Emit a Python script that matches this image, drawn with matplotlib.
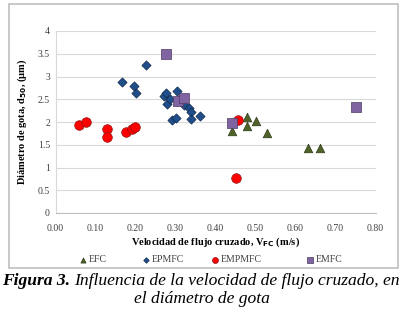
import numpy as np
import matplotlib.pyplot as plt
from matplotlib.patches import Rectangle

# datos
efc_x = [0.44, 0.479, 0.479, 0.50, 0.529, 0.63, 0.66]
efc_y = [1.81, 2.12, 1.92, 2.03, 1.76, 1.42, 1.42]

epmfc_x = [0.165, 0.195, 0.202, 0.225, 0.27, 0.275, 0.278, 0.286, 0.292,
           0.30, 0.303, 0.311, 0.32, 0.334, 0.338, 0.338, 0.36]
epmfc_y = [2.87, 2.79, 2.63, 3.25, 2.58, 2.64, 2.40, 2.51, 2.05,
           2.08, 2.68, 2.51, 2.38, 2.30, 2.22, 2.07, 2.14]

empmfc_x = [0.058, 0.0755, 0.128, 0.1295, 0.176, 0.19, 0.199, 0.455, 0.45]
empmfc_y = [1.94, 2.0, 1.85, 1.67, 1.79, 1.85, 1.88, 2.05, 0.77]

emfc_x = [0.275, 0.305, 0.32, 0.44, 0.75]
emfc_y = [3.5, 2.47, 2.52, 1.97, 2.32]

xticks = np.arange(0, 0.81, 0.1)
yticks = np.arange(0, 4.01, 0.5)

plt.rcParams['font.family'] = ['Liberation Serif', 'DejaVu Serif']

W, H = 403, 313
fig = plt.figure(figsize=(W/100, H/100), dpi=100)
fig.patches.append(Rectangle((9/W, 1-268/H), 389/W, 264/H,
                             transform=fig.transFigure, fill=False,
                             edgecolor='#bfbfbf', linewidth=1.2))

ax = fig.add_axes([55.5/W, 1-213/H, 320/W, 182/H])
h1 = ax.scatter(efc_x, efc_y, marker='^', s=38, color='#4f6228', edgecolor='#2e3a17',
                linewidth=0.5, zorder=3)
h2 = ax.scatter(epmfc_x, epmfc_y, marker='D', s=22, color='#1f4e8c', edgecolor='#0f2747',
                linewidth=0.5, zorder=3)
h3 = ax.scatter(empmfc_x, empmfc_y, marker='o', s=48, color='#ff0000', edgecolor='#8b1a1a',
                linewidth=0.5, zorder=3)
h4 = ax.scatter(emfc_x, emfc_y, marker='s', s=42, color='#8064a2', edgecolor='#4b3a63',
                linewidth=0.5, zorder=3)

ax.set_xlim(0, 0.8)
ax.set_ylim(0, 4)
ax.set_xticks(xticks)
ax.set_xticklabels(['%.2f' % v for v in xticks])
ax.set_yticks(yticks)
ax.set_yticklabels(['%g' % v for v in yticks])
ax.tick_params(labelsize=7, length=0, colors='#404040', pad=4)
ax.tick_params(axis='x', pad=8)
ax.grid(axis='y', color='#d9d9d9', linewidth=0.8)
ax.set_axisbelow(True)
for s in ['top', 'right']:
    ax.spines[s].set_visible(False)
ax.spines['left'].set_color('#d9d9d9')
ax.spines['bottom'].set_color('#bfbfbf')

ax.set_xlabel('Velocidad de flujo cruzado, V$_{\\mathbf{FC}}$ (m/s)',
              fontsize=7.5, fontweight='bold', labelpad=2)
ax.set_ylabel('Diámetro de gota, d$_{\\mathbf{50}}$, (μm)',
              fontsize=7.5, fontweight='bold', labelpad=6)

# leyenda: una entrada por serie, posiciones como en el original
entries = [(h1, 'EFC', 79, 0.6), (h2, 'EPMFC', 142, 0.6),
           (h3, 'EMPMFC', 211, 0.62), (h4, 'EMFC', 306, 0.66)]
for h, lab, xp, ms in entries:
    fig.legend([h], [lab], loc='center left', bbox_to_anchor=(xp/W, 1-260/H),
               frameon=False, fontsize=7, markerscale=ms, handlelength=0.8,
               handletextpad=0.2, borderpad=0, borderaxespad=0,
               labelcolor='#404040')

# pie de figura
fs = 12.6
y1 = 1-285/H
t1 = fig.text(2/W, y1, 'Figura 3.', fontsize=fs, fontweight='bold', style='italic',
              va='baseline')
fig.canvas.draw()
bb = t1.get_window_extent()
fig.text((bb.x1 + 4)/W, y1, 'Influencia de la velocidad de flujo cruzado, en',
         fontsize=fs, style='italic', va='baseline')
fig.text(0.5, 1-303/H, 'el diámetro de gota', fontsize=fs, style='italic',
         ha='center', va='baseline')

fig.savefig('out.png', dpi=100)
